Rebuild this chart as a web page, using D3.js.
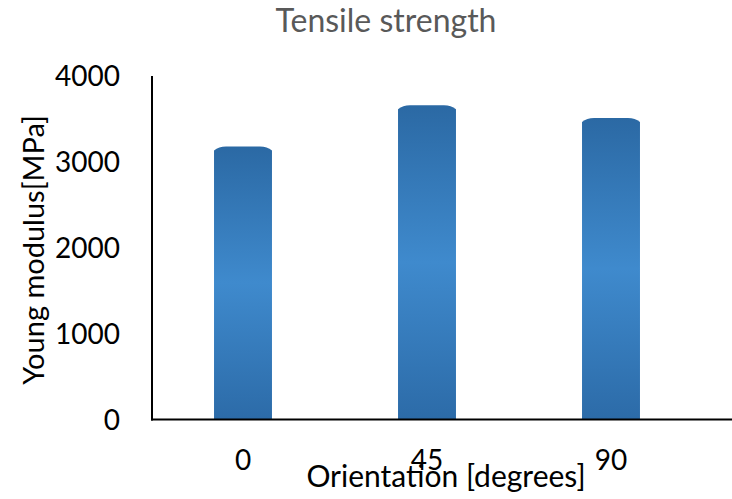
<!DOCTYPE html>
<html><head><meta charset="utf-8">
<script src="https://cdn.jsdelivr.net/npm/d3@7"></script>
<style>html,body{margin:0;padding:0;background:#fff;}svg{display:block;}</style>
</head><body>
<svg id="chart" width="732" height="499"></svg>
<script>
const categories = ["0", "45", "90"];
const values = [3180, 3660, 3510];
const yTicks = [0, 1000, 2000, 3000, 4000];
const title = "Tensile strength";
const xTitle = "Orientation [degrees]";
const yTitle = "Young modulus[MPa]";

const svg = d3.select("#chart");
const font = "Lato, 'Open Sans', sans-serif";

const x = d3.scaleBand().domain(categories).range([151, 703]).paddingInner(0.685).paddingOuter(0.3425);
const y = d3.scaleLinear().domain([0, 4000]).range([419.5, 76]);

const defs = svg.append("defs");
const g = defs.append("linearGradient").attr("id", "barGrad").attr("x1", 0).attr("y1", 0).attr("x2", 0).attr("y2", 1);
g.append("stop").attr("offset", "0%").attr("stop-color", "#2b69a4");
g.append("stop").attr("offset", "50%").attr("stop-color", "#3f8acd");
g.append("stop").attr("offset", "100%").attr("stop-color", "#2c6ba8");

// bars with slightly rounded tops
svg.append("g").selectAll("path").data(categories).join("path")
  .attr("fill", "url(#barGrad)")
  .attr("d", (c, i) => {
    const x0 = x(c), x1 = x(c) + x.bandwidth();
    const yt = y(values[i]), yb = y(0);
    const e = 12;
    return `M${x0},${yb} L${x0},${yt + 4} Q${x0 + e * 0.4},${yt} ${x0 + e},${yt} L${x1 - e},${yt} Q${x1 - e * 0.4},${yt} ${x1},${yt + 4} L${x1},${yb} Z`;
  });

// axes lines
svg.append("line").attr("x1", 152).attr("x2", 152).attr("y1", y(4000)).attr("y2", y(0) + 1)
  .attr("stroke", "#000").attr("stroke-width", 2);
svg.append("line").attr("x1", 151).attr("x2", 732).attr("y1", y(0)).attr("y2", y(0))
  .attr("stroke", "#000").attr("stroke-width", 2);

// y tick labels
svg.append("g").selectAll("text").data(yTicks).join("text")
  .attr("x", 120).attr("y", d => y(d) + 10)
  .attr("text-anchor", "end").attr("font-family", font).attr("font-size", 28).attr("fill", "#000")
  .text(d => d);

// x tick labels
svg.append("g").selectAll("text").data(categories).join("text")
  .attr("x", c => x(c) + x.bandwidth() / 2).attr("y", 470)
  .attr("text-anchor", "middle").attr("font-family", font).attr("font-size", 28).attr("fill", "#000")
  .text(c => c);

// title
svg.append("text").attr("x", 386).attr("y", 32).attr("text-anchor", "middle")
  .attr("font-family", font).attr("font-size", 32).attr("fill", "#595959").text(title);

// x title
svg.append("text").attr("x", 446).attr("y", 487).attr("text-anchor", "middle")
  .attr("font-family", font).attr("font-size", 30).attr("fill", "#000").text(xTitle);

// y title
svg.append("text").attr("transform", "translate(44,250) rotate(-90)").attr("text-anchor", "middle")
  .attr("font-family", font).attr("font-size", 29).attr("fill", "#000").text(yTitle);
</script>
</body></html>
